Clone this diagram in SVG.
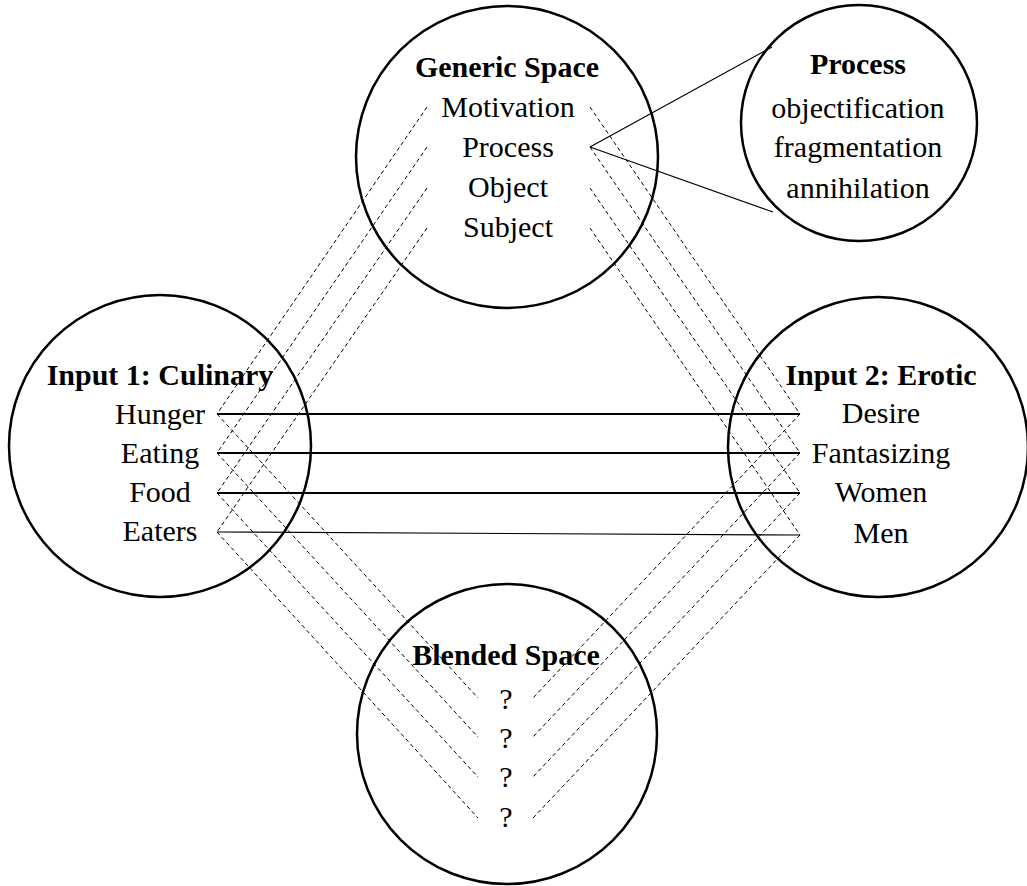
<svg xmlns="http://www.w3.org/2000/svg" width="1027" height="886" viewBox="0 0 1027 886">
<style>
.c{fill:none;stroke:#000;stroke-width:2.5}
.t{font-family:"Liberation Serif","Times New Roman",serif;font-size:30px;text-anchor:middle;fill:#000}
.b{font-weight:bold}
.d{stroke:#000;stroke-width:1;stroke-dasharray:4 3;fill:none}
.s{stroke:#000;stroke-width:2;fill:none}
.p{stroke:#000;stroke-width:1.2;fill:none}
</style>
<rect width="1027" height="886" fill="#fff"/>
<g id="connectors">
<line class="d" x1="427" y1="107" x2="217" y2="414"/>
<line class="d" x1="427" y1="147" x2="217" y2="453"/>
<line class="d" x1="427" y1="188" x2="217" y2="493"/>
<line class="d" x1="427" y1="228" x2="217" y2="532"/>
<line class="d" x1="590" y1="107" x2="800" y2="414"/>
<line class="d" x1="590" y1="147" x2="800" y2="453"/>
<line class="d" x1="590" y1="188" x2="800" y2="493"/>
<line class="d" x1="590" y1="228" x2="800" y2="535"/>
<line class="d" x1="217" y1="414" x2="478" y2="698"/>
<line class="d" x1="217" y1="453" x2="478" y2="737"/>
<line class="d" x1="217" y1="493" x2="478" y2="777"/>
<line class="d" x1="217" y1="532" x2="478" y2="818"/>
<line class="d" x1="800" y1="414" x2="533" y2="698"/>
<line class="d" x1="800" y1="453" x2="533" y2="737"/>
<line class="d" x1="800" y1="493" x2="533" y2="777"/>
<line class="d" x1="800" y1="535" x2="533" y2="818"/>
<line class="s" x1="217" y1="414" x2="800" y2="414"/>
<line class="s" x1="217" y1="453" x2="800" y2="453"/>
<line class="s" x1="217" y1="493" x2="800" y2="493"/>
<line class="p" x1="217" y1="532" x2="800" y2="535"/>
<line class="p" x1="590" y1="147" x2="772" y2="47"/>
<line class="p" x1="590" y1="147" x2="773" y2="212"/>
</g>
<g id="generic">
<circle class="c" cx="507" cy="157" r="151"/>
<text class="t b" x="507" y="77">Generic Space</text>
<text class="t" x="508" y="117">Motivation</text>
<text class="t" x="508" y="157">Process</text>
<text class="t" x="508" y="197">Object</text>
<text class="t" x="508" y="237">Subject</text>
</g>
<g id="process">
<circle class="c" cx="859" cy="123" r="118"/>
<text class="t b" x="858" y="74">Process</text>
<text class="t" x="858" y="118">objectification</text>
<text class="t" x="858" y="157">fragmentation</text>
<text class="t" x="858" y="198">annihilation</text>
</g>
<g id="input1">
<circle class="c" cx="160" cy="446" r="151"/>
<text class="t b" x="160" y="385">Input 1: Culinary</text>
<text class="t" x="160" y="424">Hunger</text>
<text class="t" x="160" y="463">Eating</text>
<text class="t" x="160" y="502">Food</text>
<text class="t" x="160" y="541">Eaters</text>
</g>
<g id="input2">
<circle class="c" cx="878" cy="447" r="150"/>
<text class="t b" x="881" y="385">Input 2: Erotic</text>
<text class="t" x="881" y="423">Desire</text>
<text class="t" x="881" y="463">Fantasizing</text>
<text class="t" x="881" y="502">Women</text>
<text class="t" x="881" y="543">Men</text>
</g>
<g id="blended">
<circle class="c" cx="507" cy="734" r="150"/>
<text class="t b" x="506" y="665">Blended Space</text>
<text class="t" x="506" y="709">?</text>
<text class="t" x="506" y="748">?</text>
<text class="t" x="506" y="787">?</text>
<text class="t" x="506" y="827">?</text>
</g>
</svg>
